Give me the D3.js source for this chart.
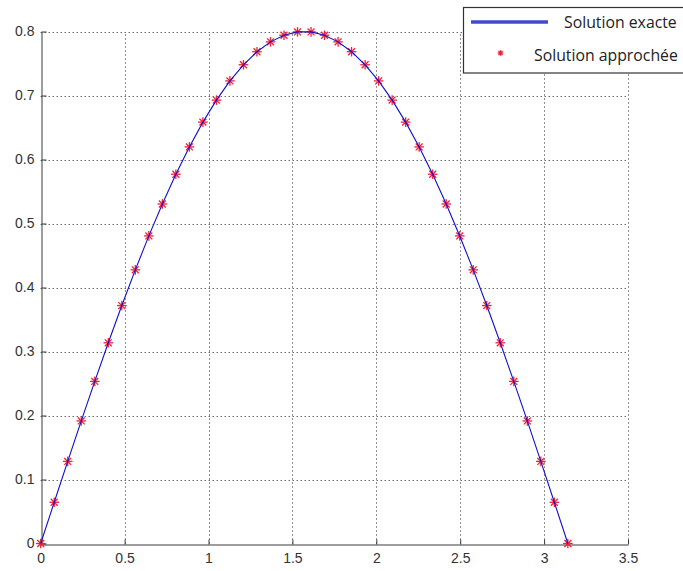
<!DOCTYPE html>
<html>
<head>
<meta charset="utf-8">
<script src="https://cdn.jsdelivr.net/npm/d3@7"></script>
<style>
html, body { margin: 0; padding: 0; background: #fff; }
svg { display: block; }
</style>
</head>
<body>
<svg id="chart" width="683" height="571"></svg>
<script>
// Data
const xValues = [0, 0.0806, 0.1611, 0.2417, 0.3222, 0.4028, 0.4833, 0.5639, 0.6444, 0.7250,
  0.8055, 0.8861, 0.9666, 1.0472, 1.1278, 1.2083, 1.2889, 1.3694, 1.4500, 1.5305,
  1.6111, 1.6916, 1.7722, 1.8527, 1.9333, 2.0138, 2.0944, 2.1750, 2.2555, 2.3361,
  2.4166, 2.4972, 2.5777, 2.6583, 2.7388, 2.8194, 2.8999, 2.9805, 3.0610, 3.1416];
const exactValues = [0, 0.0644, 0.1283, 0.1915, 0.2533, 0.3136, 0.3718, 0.4276, 0.4806, 0.5305,
  0.5770, 0.6197, 0.6584, 0.6928, 0.7228, 0.7480, 0.7684, 0.7838, 0.7942, 0.7994,
  0.7994, 0.7942, 0.7838, 0.7684, 0.7480, 0.7228, 0.6928, 0.6584, 0.6197, 0.5770,
  0.5305, 0.4806, 0.4276, 0.3718, 0.3136, 0.2533, 0.1915, 0.1283, 0.0644, 0];
const approxValues = [0, 0.0644, 0.1283, 0.1915, 0.2533, 0.3136, 0.3718, 0.4276, 0.4806, 0.5305,
  0.5770, 0.6197, 0.6584, 0.6928, 0.7228, 0.7480, 0.7684, 0.7838, 0.7942, 0.7994,
  0.7994, 0.7942, 0.7838, 0.7684, 0.7480, 0.7228, 0.6928, 0.6584, 0.6197, 0.5770,
  0.5305, 0.4806, 0.4276, 0.3718, 0.3136, 0.2533, 0.1915, 0.1283, 0.0644, 0];
const xTicks = [0, 0.5, 1, 1.5, 2, 2.5, 3, 3.5];
const yTicks = [0, 0.1, 0.2, 0.3, 0.4, 0.5, 0.6, 0.7, 0.8];
const seriesNames = ["Solution exacte", "Solution approchée"];

const svg = d3.select("#chart");
const L = 40.7, R = 628, T = 31.5, B = 543.5;
const x = d3.scaleLinear().domain([0, 3.5]).range([L, R]);
const y = d3.scaleLinear().domain([0, 0.8]).range([B, T]);

const axisColor = "#3a3a3a";
const tickFont = "'Liberation Sans', Arial, sans-serif";

// grid
const grid = svg.append("g");
grid.selectAll("line.gx").data(xTicks.slice(1)).enter().append("line")
  .attr("x1", d => Math.round(x(d)) + 0.5).attr("x2", d => Math.round(x(d)) + 0.5)
  .attr("y1", B).attr("y2", T)
  .attr("stroke", "#222").attr("stroke-width", 1).attr("stroke-dasharray", "1,3");
grid.selectAll("line.gy").data(yTicks.slice(1)).enter().append("line")
  .attr("y1", d => Math.round(y(d)) + 0.5).attr("y2", d => Math.round(y(d)) + 0.5)
  .attr("x1", L).attr("x2", R)
  .attr("stroke", "#222").attr("stroke-width", 1).attr("stroke-dasharray", "1,3");

// axes
const xAxis = d3.axisBottom(x).tickValues(xTicks).tickSizeInner(-5).tickSizeOuter(0).tickPadding(9)
  .tickFormat(d3.format("~g"));
const yAxis = d3.axisLeft(y).tickValues(yTicks).tickSizeInner(-5).tickSizeOuter(0).tickPadding(7)
  .tickFormat(d3.format("~g"));

const gx = svg.append("g").attr("transform", `translate(0,${Math.round(B) + 0.5})`).call(xAxis);
const gy = svg.append("g").attr("transform", `translate(${Math.round(L) + 0.5},0)`).call(yAxis);
[gx, gy].forEach(g => {
  g.select(".domain").attr("stroke", axisColor).attr("stroke-width", 1);
  g.selectAll(".tick line").attr("stroke", axisColor);
  g.selectAll(".tick text").attr("fill", "#333").style("font-family", tickFont).style("font-size", "14px");
});

// markers (asterisk) for approximate solution
const star = (g, cx, cy, r) => {
  const segs = [[-r, 0, r, 0], [0, -r, 0, r],
    [-r * 0.72, -r * 0.72, r * 0.72, r * 0.72], [-r * 0.72, r * 0.72, r * 0.72, -r * 0.72]];
  segs.forEach(s => g.append("line")
    .attr("x1", cx + s[0]).attr("y1", cy + s[1]).attr("x2", cx + s[2]).attr("y2", cy + s[3])
    .attr("stroke", "#f0203a").attr("stroke-width", 1.3));
};
const mk = svg.append("g");
xValues.forEach((v, i) => star(mk, x(v), y(approxValues[i]), 4.8));

// exact line
const line = d3.line().x((d, i) => x(xValues[i])).y(d => y(d));
svg.append("path").datum(exactValues).attr("d", line)
  .attr("fill", "none").attr("stroke", "#1010c8").attr("stroke-width", 1.1);

// legend
const lg = svg.append("g");
lg.append("rect").attr("x", 463.5).attr("y", 7.5).attr("width", 240).attr("height", 65.5)
  .attr("fill", "#fff").attr("stroke", "#333").attr("stroke-width", 1.2);
lg.append("line").attr("x1", 471).attr("x2", 548).attr("y1", 22).attr("y2", 22)
  .attr("stroke", "#4049d0").attr("stroke-width", 3.5);
star(lg, 500.5, 53, 2.8);
lg.append("text").attr("x", 564).attr("y", 28).text(seriesNames[0])
  .style("font-family", "'Open Sans', sans-serif").style("font-size", "15.8px").attr("fill", "#222");
lg.append("text").attr("x", 534).attr("y", 60.5).text(seriesNames[1])
  .style("font-family", "'Open Sans', sans-serif").style("font-size", "15.8px").attr("fill", "#222");
</script>
</body>
</html>
